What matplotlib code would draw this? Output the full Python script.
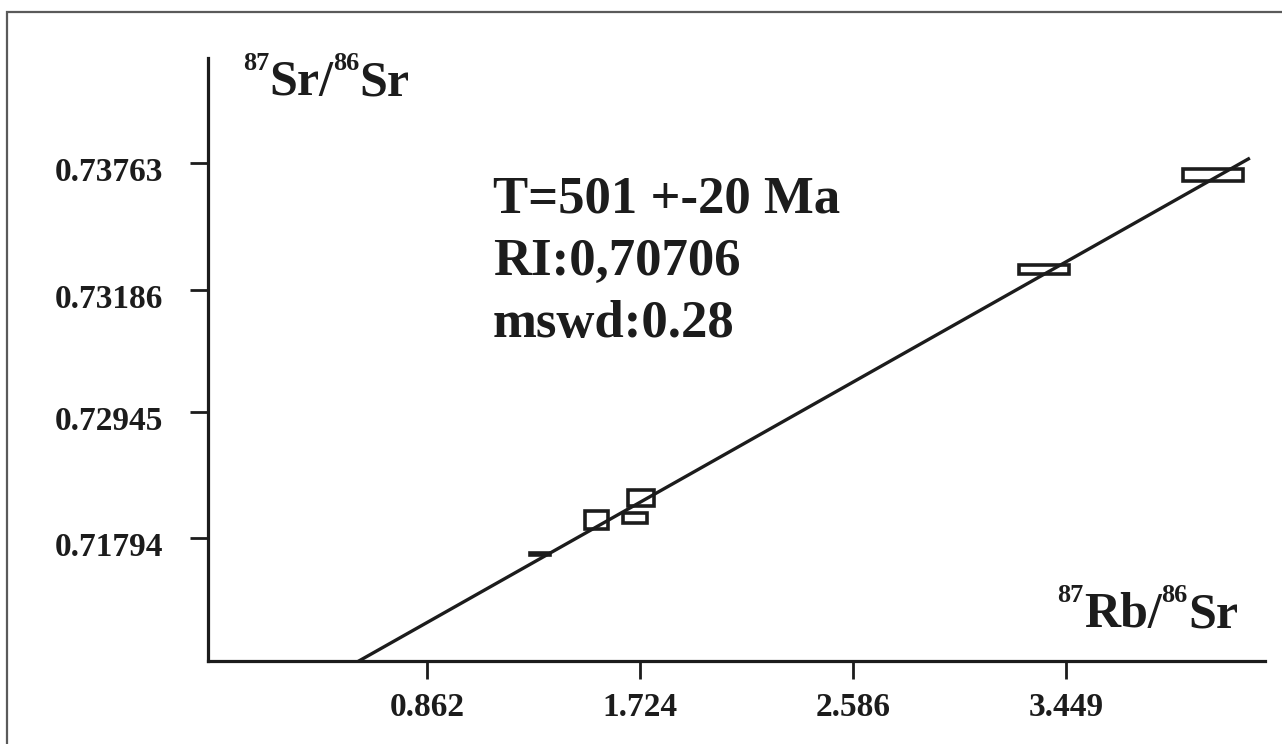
import numpy as np
import matplotlib
matplotlib.use("Agg")
import matplotlib.pyplot as plt
from matplotlib.patches import Rectangle
from matplotlib.transforms import ScaledTranslation, IdentityTransform

plt.rcParams["font.family"] = ["Liberation Serif", "DejaVu Serif"]
plt.rcParams["font.weight"] = "bold"

# Isochron parameters
AGE_MA = 501
AGE_ERR_MA = 20
RI = 0.70706
MSWD = 0.28
LAMBDA_RB = 1.42e-11  # decay constant of 87Rb, 1/yr

# Samples: 87Rb/86Sr, 87Sr/86Sr and half-widths of the error boxes
rb_sr = [1.320, 1.549, 1.704, 1.729, 3.360, 4.045]
sr_sr = [0.71673, 0.71847, 0.71857, 0.71960, 0.73130, 0.73614]
rb_err = [0.040, 0.047, 0.049, 0.051, 0.101, 0.121]
sr_err = [0.00003, 0.00046, 0.00026, 0.00041, 0.00023, 0.00031]

# Axis ticks
x_ticks = [0.862, 1.724, 2.586, 3.449]
x_tick_labels = ["0.862", "1.724", "2.586", "3.449"]
y_ticks = [0.71755, 0.72400, 0.73025, 0.73675]
y_tick_labels = ["0.71794", "0.72945", "0.73186", "0.73763"]

INK = "#1c1c1c"
DPI = 100

fig = plt.figure(figsize=(12.82, 7.44), dpi=DPI)
ax = fig.add_axes([0.1622, 0.1116, 0.8245, 0.8105])
renderer = fig.canvas.get_renderer()

# thin frame around the figure
fig.patches.append(Rectangle((0.00546, -0.2), 1.2, 0.9839 + 0.2,
                             transform=fig.transFigure, fill=False,
                             edgecolor="#5a5a5a", linewidth=1.6))

# regression line
slope = np.exp(LAMBDA_RB * AGE_MA * 1e6) - 1
xl = np.array([0.0, 4.194])
ax.plot(xl, RI + slope * xl, color=INK, lw=2.4, solid_capstyle="butt")

# error boxes
for x, y, ex, ey in zip(rb_sr, sr_sr, rb_err, sr_err):
    ax.add_patch(Rectangle((x - ex, y - ey), 2 * ex, 2 * ey, fill=False,
                           edgecolor=INK, linewidth=2.6))

ax.set_xlim(-0.0243, 4.255)
ax.set_ylim(0.71125, 0.74213)

for s in ("top", "right"):
    ax.spines[s].set_visible(False)
for s in ("left", "bottom"):
    ax.spines[s].set_linewidth(2.3)
    ax.spines[s].set_color(INK)

ax.set_xticks(x_ticks)
ax.set_xticklabels(x_tick_labels)
ax.set_yticks(y_ticks)
ax.set_yticklabels(y_tick_labels)
ax.tick_params(axis="both", direction="out", length=13, width=2.0,
               color=INK, labelsize=24, labelcolor=INK)
ax.tick_params(axis="y", pad=19)
ax.tick_params(axis="x", pad=9)
for lab in ax.get_yticklabels():
    lab.set_fontweight("bold")
    lab.set_transform(lab.get_transform() +
                      ScaledTranslation(0, -6 / DPI, fig.dpi_scale_trans))
for lab in ax.get_xticklabels():
    lab.set_fontweight("bold")


def isotope_label(x_px, base_px, parts, align="left",
                  big=36, small=19, raise_px=25):
    """Write a ratio such as 87Sr/86Sr with small raised mass numbers.
    Coordinates are pixels from the top-left corner of the figure."""
    height = fig.get_figheight() * DPI
    texts, widths = [], []
    for mass, rest in parts:
        for s, size, dy in ((mass, small, raise_px), (rest, big, 0)):
            t = fig.text(0, height - base_px + dy, s,
                         transform=IdentityTransform(), fontsize=size,
                         fontweight="bold", color=INK, va="baseline")
            texts.append(t)
            widths.append(t.get_window_extent(renderer).width)
    total = sum(widths)
    cursor = x_px - total if align == "right" else x_px
    for t, w in zip(texts, widths):
        t.set_x(cursor)
        cursor += w


isotope_label(243, 95, [("87", "Sr/"), ("86", "Sr")])
isotope_label(1238, 627, [("87", "Rb/"), ("86", "Sr")], align="right")

# isochron results
results = [f"T={AGE_MA} +-{AGE_ERR_MA} Ma",
           "RI:" + f"{RI:.5f}".replace(".", ","),
           f"mswd:{MSWD}"]
for i, line in enumerate(results):
    ax.text(0.2696, 0.743 - 0.103 * i, line, transform=ax.transAxes,
            fontsize=38, fontweight="bold", color=INK,
            ha="left", va="baseline")

fig.savefig("out.png", dpi=DPI, facecolor="white")
